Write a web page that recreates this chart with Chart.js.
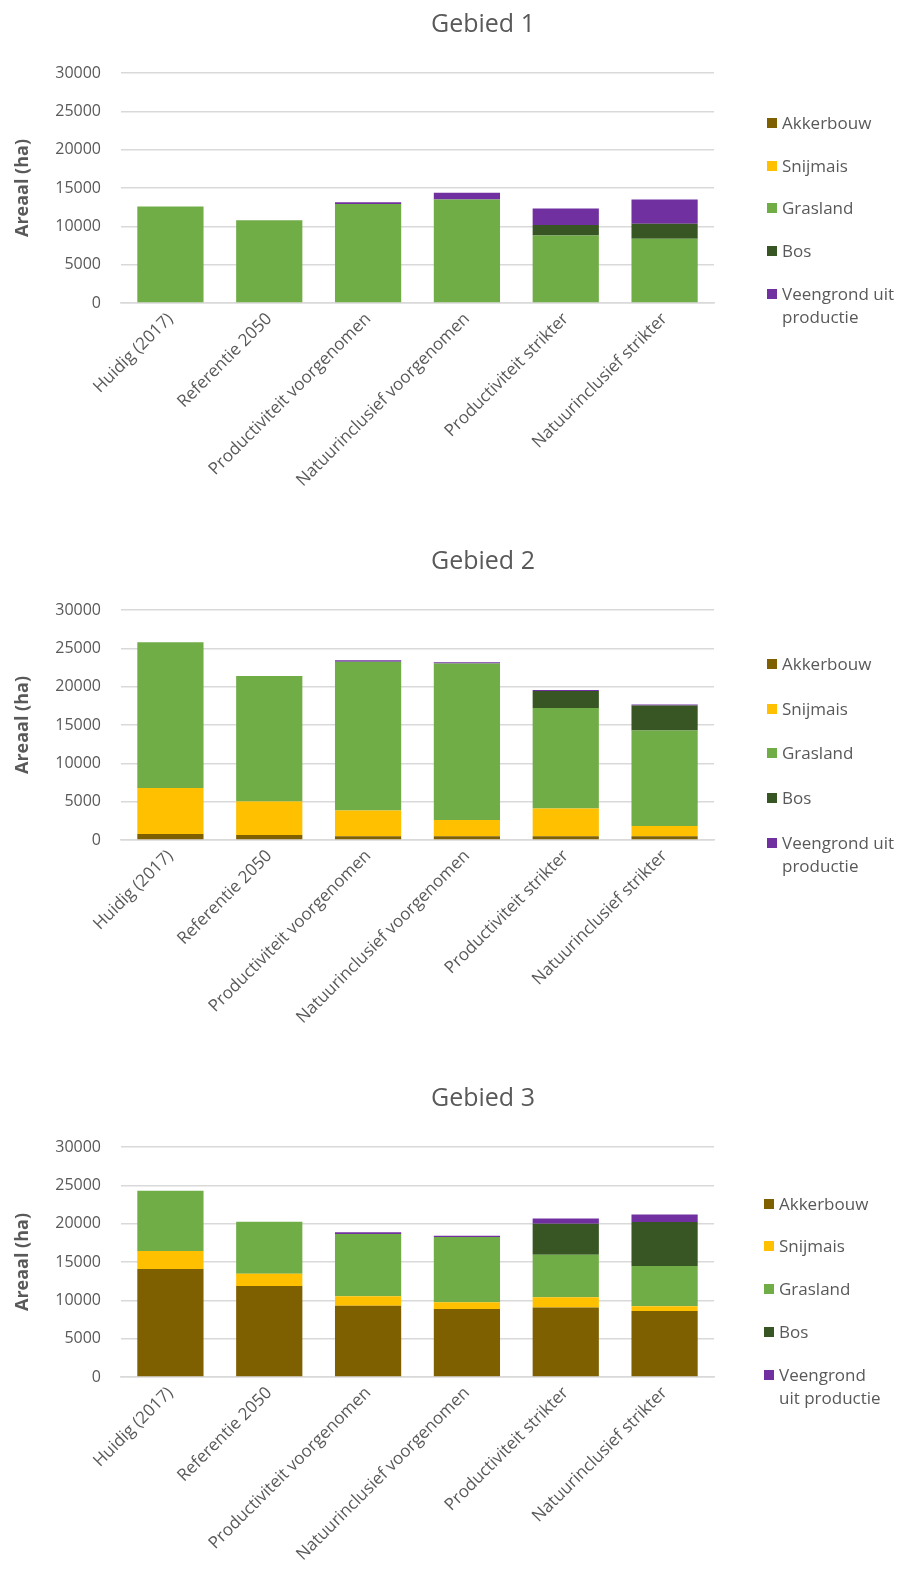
<!DOCTYPE html>
<html>
<head>
<meta charset="utf-8">
<script src="https://cdn.jsdelivr.net/npm/chart.js@4.4.0/dist/chart.umd.min.js"></script>
<style>
  html, body { margin: 0; padding: 0; background: #fff; }
  body { width: 915px; height: 1576px; position: relative; overflow: hidden; font-family: "Open Sans", sans-serif; color: #595959; }
  .block { position: absolute; left: 0; width: 915px; }
  .block canvas { position: absolute; left: 0; top: 0; }
  .title { position: absolute; left: 383px; width: 200px; text-align: center; font-size: 25px; line-height: 30px; top: 7px; color: #595959; }
  .legend { position: absolute; left: 767px; top: 0; width: 150px; }
  .item { position: absolute; left: 0; font-size: 17px; line-height: 23px; white-space: nowrap; }
  .sw { position: absolute; left: 0; top: 7px; width: 10px; height: 10px; }
  .txt { position: absolute; left: 15px; top: 0; }
</style>
</head>
<body>
<script>
const categories = ['Huidig (2017)', 'Referentie 2050', 'Productiviteit voorgenomen', 'Natuurinclusief voorgenomen', 'Productiviteit strikter', 'Natuurinclusief strikter'];
const seriesNames = ['Akkerbouw', 'Snijmais', 'Grasland', 'Bos', 'Veengrond uit productie'];
const seriesColors = ['#7f6000', '#ffc000', '#70ad47', '#375623', '#7030a0'];
const yTicks = [0, 5000, 10000, 15000, 20000, 25000, 30000];

// Gebied 1
const akker1 = [0, 0, 0, 0, 0, 0];
const snij1 = [0, 0, 0, 0, 0, 0];
const gras1 = [12600, 10800, 12900, 13500, 8800, 8380];
const bos1 = [0, 0, 0, 0, 1370, 1960];
const veen1 = [0, 0, 250, 870, 2150, 3170];

// Gebied 2
const akker2 = [780, 650, 480, 480, 480, 480];
const snij2 = [6000, 4370, 3370, 2120, 3630, 1340];
const gras2 = [19000, 16360, 19400, 20430, 13120, 12470];
const bos2 = [0, 0, 0, 0, 2210, 3250];
const veen2 = [0, 0, 200, 170, 130, 130];

// Gebied 3
const akker3 = [14100, 11860, 9300, 8870, 9050, 8610];
const snij3 = [2350, 1600, 1220, 870, 1340, 610];
const gras3 = [7840, 6800, 8140, 8530, 5550, 5270];
const bos3 = [0, 0, 0, 0, 4060, 5730];
const veen3 = [0, 0, 210, 170, 680, 980];

const charts = [
  { title: 'Gebied 1', top: 0, height: 537, data: [akker1, snij1, gras1, bos1, veen1],
    legendTops: [111, 154, 196, 239, 282], lastLabel: ['Veengrond uit', 'productie'] },
  { title: 'Gebied 2', top: 537, height: 537, data: [akker2, snij2, gras2, bos2, veen2],
    legendTops: [115, 160, 204, 249, 294], lastLabel: ['Veengrond uit', 'productie'] },
  { title: 'Gebied 3', top: 1074, height: 502, data: [akker3, snij3, gras3, bos3, veen3],
    legendTops: [118, 160, 203, 246, 289], lastLabel: ['Veengrond', 'uit productie'] }
];

const GRAY = '#595959';
const PLOT_LEFT = 121, PLOT_RIGHT = 714, PLOT_TOP = 73, PLOT_BOTTOM = 303;

charts.forEach((c, idx) => {
  const block = document.createElement('div');
  block.className = 'block';
  block.style.top = c.top + 'px';
  block.style.height = c.height + 'px';
  document.body.appendChild(block);

  const canvas = document.createElement('canvas');
  canvas.width = 915; canvas.height = c.height;
  canvas.style.width = '915px'; canvas.style.height = c.height + 'px';
  block.appendChild(canvas);

  const t = document.createElement('div');
  t.className = 'title';
  t.textContent = c.title;
  block.appendChild(t);

  const lg = document.createElement('div');
  lg.className = 'legend';
  if (idx === 2) lg.style.left = '764px';
  seriesNames.forEach((name, i) => {
    const it = document.createElement('div');
    it.className = 'item';
    it.style.top = c.legendTops[i] + 'px';
    const sw = document.createElement('div');
    sw.className = 'sw';
    sw.style.background = seriesColors[i];
    const tx = document.createElement('div');
    tx.className = 'txt';
    if (i === seriesNames.length - 1) {
      tx.innerHTML = c.lastLabel.join('<br>');
    } else {
      tx.textContent = name;
    }
    it.appendChild(sw); it.appendChild(tx);
    lg.appendChild(it);
  });
  block.appendChild(lg);

  new Chart(canvas, {
    type: 'bar',
    data: {
      labels: categories,
      datasets: seriesNames.map((name, i) => ({
        label: name,
        data: c.data[i],
        backgroundColor: seriesColors[i],
        borderWidth: 0,
        barPercentage: 0.67,
        categoryPercentage: 1.0
      }))
    },
    options: {
      responsive: false,
      animation: false,
      devicePixelRatio: 1,
      layout: { padding: { left: 0, right: 915 - PLOT_RIGHT, top: PLOT_TOP, bottom: 0 } },
      plugins: { legend: { display: false }, title: { display: false }, tooltip: { enabled: false } },
      scales: {
        x: {
          stacked: true,
          grid: { display: false, drawTicks: false },
          border: { display: true, color: '#d9d9d9', width: 1.5 },
          ticks: { color: GRAY, font: { family: 'Open Sans', size: 17 }, maxRotation: 45, minRotation: 45, padding: 6, autoSkip: false },
          afterFit: (s) => { s.height = c.height - PLOT_BOTTOM; }
        },
        y: {
          stacked: true,
          min: 0, max: 30000,
          afterBuildTicks: (s) => { s.ticks = yTicks.map(v => ({ value: v })); },
          grid: { color: '#d9d9d9', lineWidth: 1.5, drawTicks: false },
          border: { display: false },
          ticks: { color: GRAY, font: { family: 'Open Sans', size: 16 }, padding: 20, callback: (v) => String(v) },
          title: { display: true, text: 'Areaal (ha)', color: GRAY, font: { family: 'Open Sans', size: 18, weight: 'bold' }, padding: { top: 12, bottom: 0 } },
          afterFit: (s) => { s.width = PLOT_LEFT; }
        }
      }
    }
  });
});
</script>
</body>
</html>
